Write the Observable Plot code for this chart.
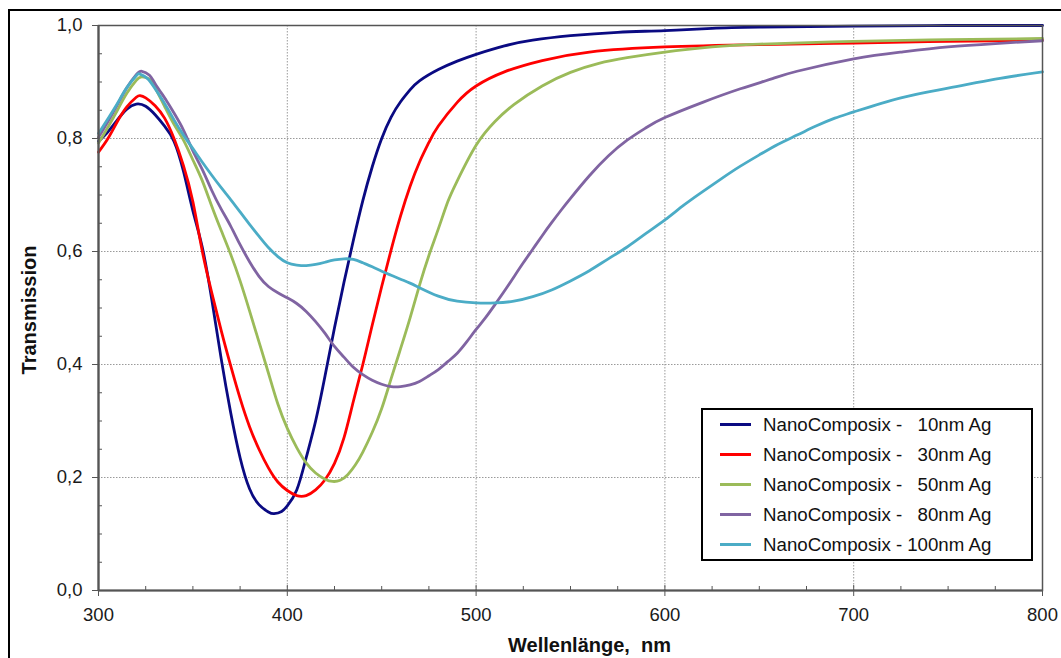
<!DOCTYPE html>
<html>
<head>
<meta charset="utf-8">
<script src="https://cdn.jsdelivr.net/npm/d3@7"></script>
<script src="https://cdn.jsdelivr.net/npm/@observablehq/plot@0.6"></script>
<style>
  html, body { margin: 0; padding: 0; background: #fff; overflow: hidden; }
  #wrap { position: relative; width: 1061px; height: 658px; font-family: "Liberation Sans", Arial, sans-serif; }
  #outer { position: absolute; left: 8px; top: 9px; width: 1200px; height: 800px; border-left: 2px solid #000; border-top: 2px solid #000; pointer-events: none; }
  #legend { position: absolute; left: 701px; top: 408px; width: 311px; height: 149px; border: 2px solid #000; background: #fff;
            display: grid; grid-template-columns: 31px max-content max-content; grid-auto-rows: 30px; align-content: center;
            padding: 0 0 0 17px; box-sizing: content-box; font-size: 18.7px; color: #111; }
  #legend .sw { align-self: center; height: 3px; }
  #legend .pre { padding-left: 12px; align-self: center; white-space: pre; }
  #legend .suf { justify-self: end; padding-left: 5px; align-self: center; white-space: pre; }
</style>
</head>
<body>
<div id="wrap"><div id="outer"></div></div>
<script>
// Series: wavelength (nm) and transmission values
const names = ["10nm Ag", "30nm Ag", "50nm Ag", "80nm Ag", "100nm Ag"];
const colors = ["#0a0a82", "#ff0000", "#9bbb59", "#8064a2", "#4bacc6"];

const wl10 = [300,305,310,315,320,325,330,335,340,345,350,355,360,365,370,375,380,385,390,393,397,400,405,410,415,420,425,430,435,440,445,450,455,460,465,470,480,490,500,515,530,550,575,600,625,650,700,750,800];
const t10  = [.795,.812,.833,.852,.861,.857,.842,.822,.795,.742,.672,.607,.515,.410,.315,.235,.180,.152,.139,.136,.140,.150,.178,.235,.300,.380,.465,.545,.620,.690,.750,.800,.838,.865,.886,.902,.922,.937,.949,.964,.974,.982,.988,.991,.995,.997,.999,1.0,1.0];

const wl30 = [300,305,310,315,320,322,325,330,335,340,345,350,355,360,365,370,375,380,385,390,395,400,405,410,415,420,425,430,435,440,445,450,455,460,465,470,475,480,490,500,515,535,560,600,650,700,750,800];
const t30  = [.776,.80,.83,.856,.873,.876,.872,.858,.836,.80,.752,.688,.600,.527,.460,.398,.340,.290,.250,.217,.192,.177,.168,.168,.178,.196,.225,.270,.335,.400,.470,.538,.603,.663,.715,.758,.793,.822,.864,.893,.918,.938,.953,.962,.966,.969,.972,.974];

const wl50 = [300,305,310,315,320,323,327,330,335,340,345,350,355,360,365,370,375,380,385,390,395,400,405,410,415,420,424,428,432,436,440,445,450,455,460,465,470,475,480,485,490,500,510,520,535,550,565,580,600,625,650,700,750,800];
const t50  = [.792,.82,.85,.88,.903,.909,.905,.890,.857,.825,.797,.762,.725,.680,.637,.595,.548,.495,.440,.385,.330,.287,.253,.226,.208,.197,.193,.195,.205,.222,.245,.280,.322,.375,.428,.482,.540,.593,.640,.688,.725,.788,.830,.860,.893,.917,.933,.943,.953,.962,.967,.972,.975,.977];

const wl80 = [300,305,310,315,320,323,327,330,336,340,345,350,355,360,365,370,375,380,385,390,395,400,405,410,415,420,425,430,435,440,445,450,455,460,465,470,475,480,485,490,495,500,505,510,515,520,525,530,535,540,545,550,560,570,580,590,600,620,640,657,670,700,725,750,775,800];
const t80  = [.802,.83,.86,.89,.913,.919,.912,.897,.867,.845,.815,.778,.745,.708,.675,.645,.612,.582,.556,.538,.527,.518,.508,.494,.476,.455,.432,.413,.395,.382,.372,.365,.361,.361,.364,.370,.380,.391,.405,.420,.440,.462,.483,.506,.530,.555,.580,.604,.628,.651,.673,.694,.734,.769,.797,.819,.837,.864,.888,.906,.919,.941,.953,.962,.968,.973];

const wl100 = [300,305,310,315,320,322,326,330,335,340,345,350,355,360,365,370,375,380,385,390,395,400,405,410,415,420,425,430,435,440,445,450,455,460,465,470,480,490,500,510,520,530,540,550,560,570,580,590,600,610,620,630,640,650,660,670,680,690,700,725,750,775,800];
const t100  = [.809,.835,.862,.89,.911,.914,.906,.888,.862,.833,.806,.782,.758,.735,.713,.692,.670,.648,.627,.607,.591,.580,.576,.575,.577,.581,.585,.587,.586,.580,.573,.565,.558,.551,.544,.536,.521,.512,.509,.509,.512,.520,.532,.548,.566,.587,.608,.632,.656,.682,.706,.729,.751,.771,.790,.806,.822,.836,.847,.872,.889,.905,.918];

const xMajor = [300,400,500,600,700,800];
const xMinor = [325,350,375,425,450,475,525,550,575,625,650,675,725,750,775];
const yMajor = [0,0.2,0.4,0.6,0.8,1.0];
const yMinor = [0.05,0.1,0.15,0.25,0.3,0.35,0.45,0.5,0.55,0.65,0.7,0.75,0.85,0.9,0.95];
const xTitle = "Wellenlänge,  nm";
const yTitle = "Transmission";
const legendPrefix = "NanoComposix -";

const seriesWl = [wl10, wl30, wl50, wl80, wl100];
const seriesT = [t10, t30, t50, t80, t100];
const data = names.flatMap((n, i) => seriesWl[i].map((w, j) => ({name: n, wl: w, t: seriesT[i][j]})));

const fmtY = d => d.toFixed(1).replace(".", ",");

const chart = Plot.plot({
  width: 1061,
  height: 658,
  marginLeft: 98,
  marginRight: 19,
  marginTop: 25,
  marginBottom: 68,
  x: {domain: [300, 800]},
  y: {domain: [0, 1]},
  color: {domain: names, range: colors},
  style: {fontFamily: "'Liberation Sans', Arial, sans-serif", fontSize: "18.5px", color: "#1a1a1a", background: "transparent"},
  marks: [
    Plot.gridX(xMajor.slice(1, -1), {stroke: "#9a9a9a", strokeOpacity: 1, strokeDasharray: "1.5,1.5"}),
    Plot.gridY(yMajor.slice(1, -1), {stroke: "#9a9a9a", strokeOpacity: 1, strokeDasharray: "1.5,1.5"}),
    Plot.line(data, {x: "wl", y: "t", z: "name", stroke: "name", strokeWidth: 2.8, curve: "natural"}),
    Plot.frame({stroke: "#555", strokeWidth: 1.5}),
    Plot.ruleX([300], {stroke: "#555", strokeWidth: 2.2}),
    Plot.ruleY([0], {stroke: "#555", strokeWidth: 2.2}),
    Plot.axisX(xMinor, {tickSize: -4, tickFormat: () => "", label: null, stroke: "#555"}),
    Plot.axisX(xMajor, {tickSize: -5, tickFormat: () => "", label: null, stroke: "#555"}),
    Plot.axisX(xMajor, {tickSize: 6, tickPadding: 11, tickFormat: d => String(d), label: null, stroke: "#555", fill: "#1a1a1a"}),
    Plot.axisY(yMinor, {tickSize: -4, tickFormat: () => "", label: null, stroke: "#555"}),
    Plot.axisY(yMajor, {tickSize: 6, tickPadding: 10, tickFormat: fmtY, label: null, stroke: "#555", fill: "#1a1a1a"}),
    Plot.text([xTitle], {frameAnchor: "bottom", lineAnchor: "middle", textAnchor: "middle", dy: 55, dx: 19, fontWeight: "bold", fontSize: 20, fill: "#111"}),
    Plot.text([yTitle], {frameAnchor: "left", lineAnchor: "middle", textAnchor: "middle", rotate: -90, dx: -69, dy: 2, fontWeight: "bold", fontSize: 20, fill: "#111"})
  ]
});

const wrap = document.getElementById("wrap");
chart.style.position = "absolute";
chart.style.left = "0";
chart.style.top = "0";
wrap.insertBefore(chart, wrap.firstChild);

// Legend (HTML overlay)
const legend = document.createElement("div");
legend.id = "legend";
names.forEach((n, i) => {
  const sw = document.createElement("div");
  sw.className = "sw";
  sw.style.background = colors[i];
  const pre = document.createElement("div");
  pre.className = "pre";
  pre.textContent = legendPrefix;
  const suf = document.createElement("div");
  suf.className = "suf";
  suf.textContent = n;
  legend.append(sw, pre, suf);
});
wrap.appendChild(legend);
</script>
</body>
</html>
